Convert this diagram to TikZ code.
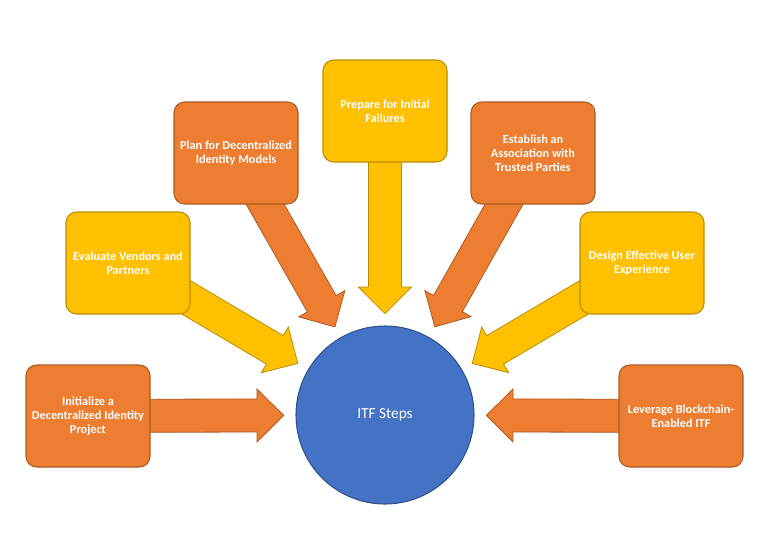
\documentclass[tikz,border=0pt]{standalone}
\usepackage{fontspec}
\setmainfont{Carlito}
\usetikzlibrary{calc,backgrounds}

\definecolor{itforange}{HTML}{ED7D31}
\definecolor{itforangeline}{HTML}{AE5A21}
\definecolor{itfyellow}{HTML}{FFC000}
\definecolor{itfyellowline}{HTML}{BC8C00}
\definecolor{itfblue}{HTML}{4472C4}
\definecolor{itfblueline}{HTML}{2F528F}

\tikzset{
	stepbox/.style={draw, line width=0.8pt, rounded corners=8pt, minimum width=93pt, minimum height=76.5pt, align=center, text=white, font=\fontsize{9.2}{10.6}\selectfont\bfseries},
	orangebox/.style={stepbox, fill=itforange, draw=itforangeline},
	yellowbox/.style={stepbox, fill=itfyellow, draw=itfyellowline},
	orangearrow/.style={fill=itforange, draw=itforangeline, line width=0.6pt},
	yellowarrow/.style={fill=itfyellow, draw=itfyellowline, line width=0.6pt}
}

% block arrow: from node, to tip, style
\newcommand{\blockarrow}[3]{%
	\coordinate (head) at ($(#2)!20pt!(#1)$);
	\draw[#3] ($(#1)!12.4pt!90:(#2)$) -- ($(head)!12.4pt!90:(#2)$) -- ($(head)!19.9pt!90:(#2)$) -- (#2) -- ($(head)!19.9pt!-90:(#2)$) -- ($(head)!12.4pt!-90:(#2)$) -- ($(#1)!12.4pt!-90:(#2)$) -- cycle;
}

\begin{document}
\begin{tikzpicture}[x=0.75pt, y=-0.75pt]
	\useasboundingbox (0,0) rectangle (770,540);
	% Centre circle
	\node[circle, fill=itfblue, draw=itfblueline, line width=0.8pt, minimum size=133.5pt, text=white, font=\fontsize{11.5}{14}\selectfont] (itf) at (385,415) {ITF Steps};
	% Left side
	\node[orangebox] (init) at (88,416) {Initialize a\\Decentralized Identity\\Project};
	\node[yellowbox] (eval) at (128,263) {Evaluate Vendors and\\Partners};
	\node[orangebox] (plan) at (236,153) {Plan for Decentralized\\Identity Models};
	% Top
	\node[yellowbox] (prep) at (385,111) {Prepare for Initial\\Failures};
	% Right side
	\node[orangebox] (assoc) at (533,153) {Establish an\\Association with\\Trusted Parties};
	\node[yellowbox] (design) at (642,263) {Design Effective User\\Experience};
	\node[orangebox] (lever) at (681,416) {Leverage Blockchain-\\Enabled ITF};
	% Arrow tips round the circle
	\foreach \b in {init,eval,plan,prep,assoc,design,lever}
		\coordinate (tip-\b) at ($(itf.center)!76pt!(\b.center)$);
	% Block arrows
	\begin{scope}[on background layer]
		\blockarrow{init}{tip-init}{orangearrow}
		\blockarrow{eval}{tip-eval}{yellowarrow}
		\blockarrow{plan}{tip-plan}{orangearrow}
		\blockarrow{prep}{tip-prep}{yellowarrow}
		\blockarrow{assoc}{tip-assoc}{orangearrow}
		\blockarrow{design}{tip-design}{yellowarrow}
		\blockarrow{lever}{tip-lever}{orangearrow}
	\end{scope}
\end{tikzpicture}
\end{document}
